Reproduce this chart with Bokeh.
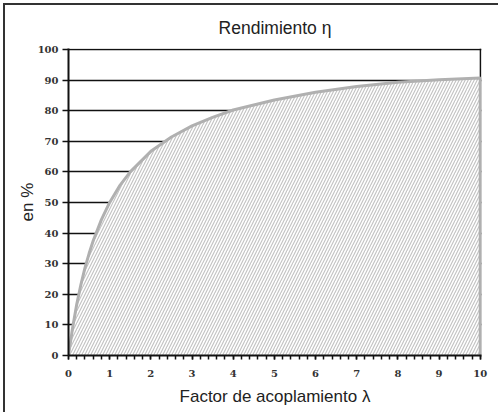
from bokeh.plotting import figure
from bokeh.models import Range1d, FixedTicker
from bokeh.embed import file_html
from bokeh.resources import INLINE

# Data
lam = [0, 0.1, 0.2, 0.3, 0.4, 0.5, 0.6, 0.8, 1.0, 1.25, 1.5, 2.0, 2.5, 3.0, 3.5, 4.0, 5.0, 6.0, 7.0, 8.0, 9.0, 10.0]
eta = [0, 9.1, 16.7, 23.1, 28.6, 33.3, 37.5, 44.4, 50.0, 55.6, 60.0, 66.7, 71.4, 75.0, 77.8, 80.2, 83.5, 86.0, 87.9, 89.3, 90.1, 90.7]
y_ticks = [0, 10, 20, 30, 40, 50, 60, 70, 80, 90, 100]
x_ticks = [0, 1, 2, 3, 4, 5, 6, 7, 8, 9, 10]
x_minor = [i / 5 for i in range(0, 51)]

p = figure(width=495, height=409, output_backend="svg", toolbar_location=None,
           x_range=Range1d(0, 10.03), y_range=Range1d(0, 100.3),
           title="Rendimiento η", min_border_left=63, min_border_right=19,
           min_border_top=43, min_border_bottom=59)
p.styles = {"position": "absolute", "left": "3px", "top": "3px",
            "border-left": "2px solid #333333", "border-top": "2px solid #333333"}

p.title.align = "center"
p.title.text_font = "Liberation Sans"
p.title.text_font_size = "17.5px"
p.title.text_font_style = "normal"
p.title.text_color = "#222222"
p.title.standoff = 21

p.outline_line_color = None
p.background_fill_color = "white"
p.border_fill_color = "white"

# grids: horizontal lines at every 10, vertical only at the right edge
p.ygrid.ticker = FixedTicker(ticks=y_ticks)
p.ygrid.grid_line_color = "#111111"
p.ygrid.grid_line_width = 1.6
p.xgrid.ticker = FixedTicker(ticks=[x_ticks[-1]])
p.xgrid.grid_line_color = "#111111"
p.xgrid.grid_line_width = 1.6

# area with hatch
p.varea(x=lam, y1=[0] * len(lam), y2=eta, fill_color="white",
        hatch_pattern="/", hatch_color="#c4c4c4", hatch_weight=1.2, hatch_scale=6)
edge_x = lam + [lam[-1]]
edge_y = eta + [0]
p.line(edge_x, edge_y, line_color="#b0b0b0", line_width=3)

# axes
tick_font = "DejaVu Serif"
for ax in (p.xaxis[0], p.yaxis[0]):
    ax.axis_line_color = "#111111"
    ax.axis_line_width = 2
    ax.major_tick_line_color = "#111111"
    ax.major_tick_line_width = 1.5
    ax.major_label_text_font = tick_font
    ax.major_label_text_font_style = "bold"
    ax.major_label_text_font_size = "10px"
    ax.major_label_text_color = "#333333"
    ax.axis_label_text_font = "Liberation Sans"
    ax.axis_label_text_font_size = "17px"
    ax.axis_label_text_font_style = "normal"
    ax.axis_label_text_color = "#222222"

p.yaxis.ticker = FixedTicker(ticks=y_ticks)
p.yaxis.major_tick_out = 6
p.yaxis.major_tick_in = 0
p.yaxis.minor_tick_line_color = None
p.yaxis.major_label_standoff = 4
p.yaxis.axis_label = "en %"
p.yaxis.axis_label_standoff = -2

p.xaxis.ticker = FixedTicker(ticks=x_ticks, minor_ticks=x_minor)
p.xaxis.major_tick_out = 4
p.xaxis.major_tick_in = 0
p.xaxis.minor_tick_out = 4
p.xaxis.minor_tick_in = 0
p.xaxis.minor_tick_line_color = "#111111"
p.xaxis.minor_tick_line_width = 1.5
p.xaxis.major_label_standoff = 10
p.xaxis.axis_label = "Factor de acoplamiento λ"
p.xaxis.axis_label_standoff = 7

open("out.html", "w").write(file_html(p, INLINE))
